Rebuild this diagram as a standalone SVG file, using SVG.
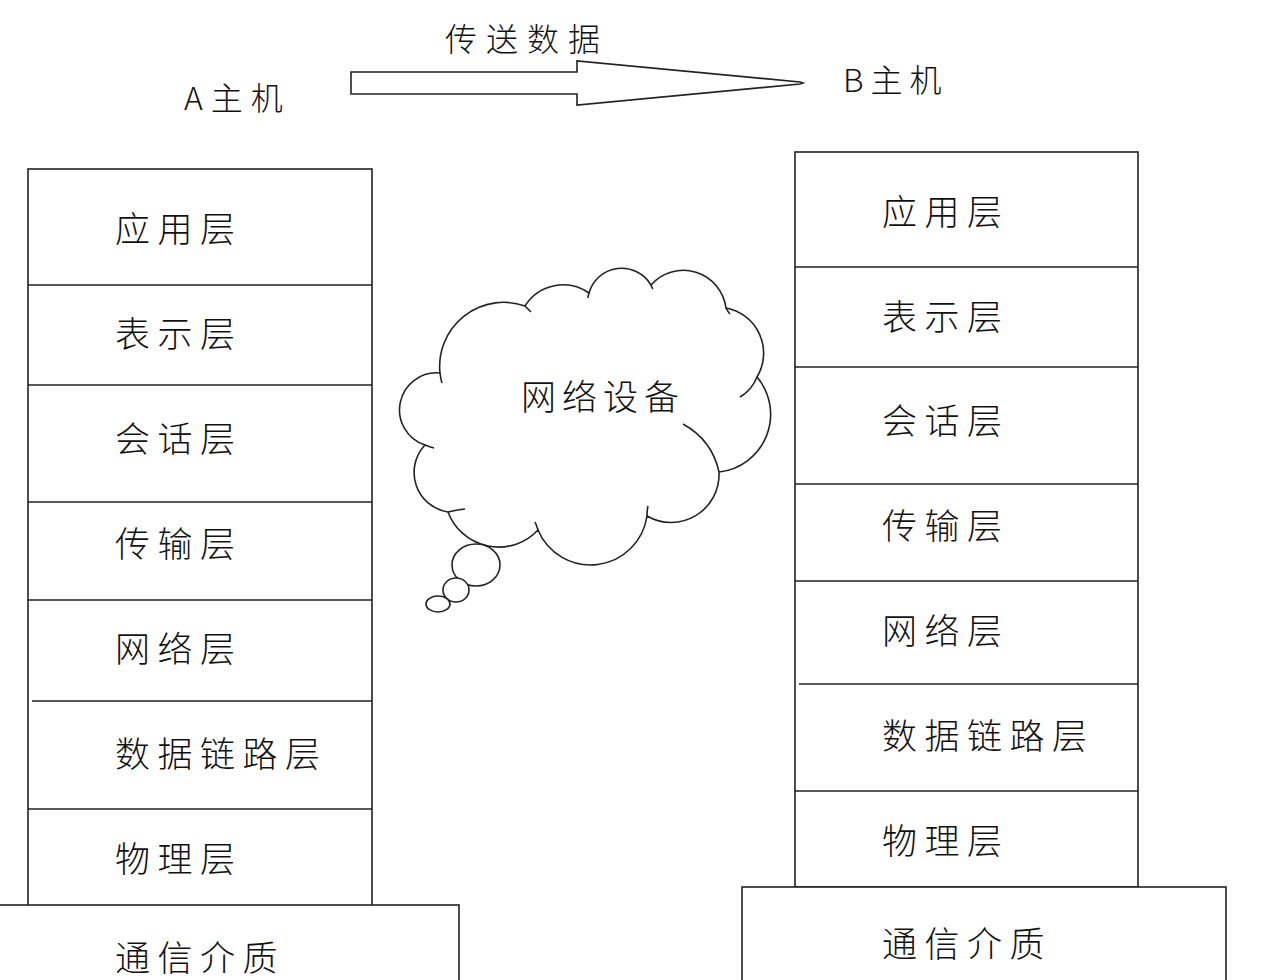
<svg xmlns="http://www.w3.org/2000/svg" width="1283" height="980" viewBox="0 0 1283 980">
<style>
.t{font-family:"Noto Sans CJK SC","Noto Sans",sans-serif;font-size:35px;font-weight:300;letter-spacing:7.5px;fill:#111}
.h{font-family:"Noto Sans CJK SC","Noto Sans",sans-serif;font-size:32px;font-weight:300;letter-spacing:9px;fill:#111}
.b{fill:#fff;stroke:#222;stroke-width:1.6}
.l{fill:none;stroke:#222;stroke-width:1.6}
</style>
<rect width="1283" height="980" fill="#fff"/>
<g id="title">
<text class="h" x="445" y="51">传送数据</text>
</g>
<g id="hostA-label"><text class="h" x="184" y="110" style="letter-spacing:8px">A主机</text></g>
<g id="hostB-label"><text class="h" x="843" y="92" style="letter-spacing:7px">B主机</text></g>
<g id="connectors">
<path class="b" d="M351,72 L577,72 L577,61 L800,82 L803,83 L800,84 L577,105 L577,94 L351,94 Z"/>
</g>
<g id="stackA">
<rect class="b" x="28" y="169" width="344" height="738"/>
<line class="l" x1="28" y1="285" x2="372" y2="285"/>
<line class="l" x1="28" y1="385" x2="372" y2="385"/>
<line class="l" x1="28" y1="502" x2="372" y2="502"/>
<line class="l" x1="28" y1="600" x2="372" y2="600"/>
<line class="l" x1="32" y1="701" x2="372" y2="701"/>
<line class="l" x1="28" y1="809" x2="372" y2="809"/>
<text class="t" x="115" y="242">应用层</text>
<text class="t" x="115" y="347">表示层</text>
<text class="t" x="115" y="452">会话层</text>
<text class="t" x="115" y="557">传输层</text>
<text class="t" x="115" y="662">网络层</text>
<text class="t" x="115" y="767">数据链路层</text>
<text class="t" x="115" y="872">物理层</text>
</g>
<g id="mediumA">
<rect class="b" x="-2" y="905" width="461" height="90"/>
<text class="t" x="115" y="971">通信介质</text>
</g>
<g id="stackB">
<rect class="b" x="795" y="152" width="343" height="735"/>
<line class="l" x1="795" y1="267" x2="1138" y2="267"/>
<line class="l" x1="795" y1="367" x2="1138" y2="367"/>
<line class="l" x1="795" y1="484" x2="1138" y2="484"/>
<line class="l" x1="795" y1="581" x2="1138" y2="581"/>
<line class="l" x1="799" y1="684" x2="1138" y2="684"/>
<line class="l" x1="795" y1="791" x2="1138" y2="791"/>
<text class="t" x="882" y="225">应用层</text>
<text class="t" x="882" y="330">表示层</text>
<text class="t" x="882" y="434">会话层</text>
<text class="t" x="882" y="539">传输层</text>
<text class="t" x="882" y="644">网络层</text>
<text class="t" x="882" y="749">数据链路层</text>
<text class="t" x="882" y="854">物理层</text>
</g>
<g id="mediumB">
<rect class="b" x="742" y="887" width="484" height="110"/>
<text class="t" x="882" y="957">通信介质</text>
</g>
<g id="cloud">
<path class="b" d="M440,373 A37,37 0 0 0 425,445 A40,40 0 0 0 448,512 A54,54 0 0 0 538,530 A57,57 0 0 0 647,516 A48,48 0 0 0 719,472 A58,58 0 0 0 757,377 A46,46 0 0 0 726,308 A43,43 0 0 0 651,285 A34,34 0 0 0 589,293 A45,45 0 0 0 525,306 A64,64 0 0 0 440,373 Z"/>
<path class="l" d="M440,373 Q441,380 442,383 M425,445 Q430,447 434,448 M448,512 Q456,510 465,509 M538,530 Q536,524 535,522 M647,516 Q647,510 648,506 M719,472 Q712,440 683,424 M757,377 Q752,390 740,397 M726,308 Q728,312 730,314 M651,285 Q652,288 653,289 M589,293 Q588,296 588,298 M525,306 Q528,309 531,312"/>
<ellipse class="b" cx="476" cy="565" rx="24" ry="21"/>
<ellipse class="b" cx="456" cy="590" rx="13" ry="12"/>
<ellipse class="b" cx="438" cy="604" rx="12" ry="8"/>
<text class="t" x="521" y="410" style="letter-spacing:6px">网络设备</text>
</g>
</svg>
